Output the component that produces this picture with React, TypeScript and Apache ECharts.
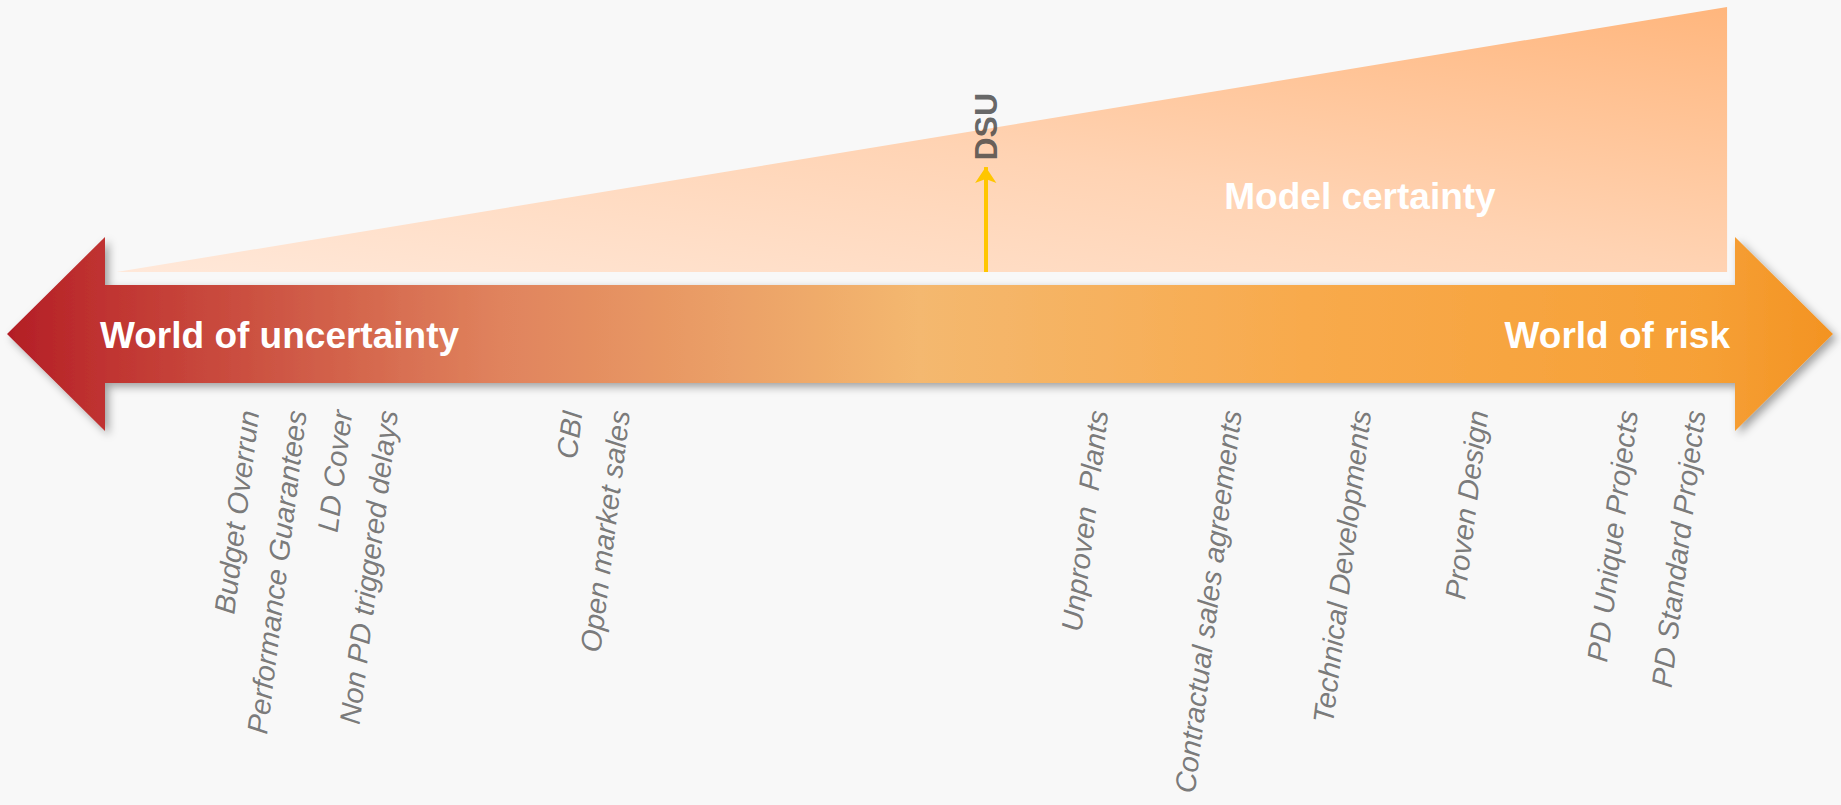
import React, { useEffect, useRef } from "react";
import * as echarts from "echarts";

// Spectrum from "World of uncertainty" (0) to "World of risk" (100)
const spectrumRange = [0, 100];

// Items placed along the spectrum
const categories = [
  "Budget Overrun",
  "Performance Guarantees",
  "LD Cover",
  "Non PD triggered delays",
  "CBI",
  "Open market sales",
  "Unproven  Plants",
  "Contractual sales agreements",
  "Technical Developments",
  "Proven Design",
  "PD Unique Projects",
  "PD Standard Projects",
];
const positions = [13.3, 15.9, 18.4, 20.9, 31.0, 33.6, 59.8, 67.1, 74.2, 80.6, 88.8, 92.5];

// Model certainty wedge (spectrum position, certainty level 0..1)
const certaintyX = [6.0, 94.2];
const certaintyY = [0, 1];

// DSU marker
const dsuName = "DSU";
const dsuX = 53.6;
const dsuLevel = 0.396;

const leftTitle = "World of uncertainty";
const rightTitle = "World of risk";
const wedgeTitle = "Model certainty";

const FONT = '"Liberation Sans", Arial, Helvetica, sans-serif';

export default function App() {
  const ref = useRef<HTMLDivElement>(null);

  useEffect(() => {
    if (!ref.current) return;
    const chart = echarts.init(ref.current, null, { renderer: "svg" });

    const arrowGradient = new echarts.graphic.LinearGradient(0, 0, 1, 0, [
      { offset: 0, color: "#B31E26" },
      { offset: 0.05, color: "#BF3230" },
      { offset: 0.27, color: "#E0835D" },
      { offset: 0.5, color: "#F4B86F" },
      { offset: 0.71, color: "#F8AA4C" },
      { offset: 0.93, color: "#F6A036" },
      { offset: 1, color: "#F39322" },
    ]);

    const option: any = {
      animation: false,
      backgroundColor: "#F8F8F8",
      grid: [
        { left: 7, right: 8, top: 7, bottom: 533 },
        { left: 7, right: 8, top: 411, bottom: 0 },
      ],
      xAxis: [
        { type: "value", gridIndex: 0, min: spectrumRange[0], max: spectrumRange[1], show: false },
        { type: "value", gridIndex: 1, min: spectrumRange[0], max: spectrumRange[1], show: false },
      ],
      yAxis: [
        { type: "value", gridIndex: 0, min: 0, max: 1, show: false },
        { type: "value", gridIndex: 1, min: 0, max: 1, show: false },
      ],
      graphic: [
        {
          type: "text",
          x: 1360,
          y: 196,
          z: 10,
          style: {
            text: wedgeTitle,
            fill: "#FFFFFF",
            fontSize: 37,
            fontWeight: "bold",
            fontFamily: FONT,
            align: "center",
            verticalAlign: "middle",
          },
        },
      ],
      series: [
        {
          type: "line",
          name: "certainty",
          xAxisIndex: 0,
          yAxisIndex: 0,
          data: certaintyX.map((x, i) => [x, certaintyY[i]]),
          symbol: "none",
          silent: true,
          lineStyle: { width: 0, opacity: 0 },
          areaStyle: {
            opacity: 1,
            color: new echarts.graphic.LinearGradient(0, 1, 1, 0, [
              { offset: 0, color: "#FFE8D9" },
              { offset: 0.5, color: "#FFD3B3" },
              { offset: 1, color: "#FFB67D" },
            ]),
          },
          z: 1,
        },
        {
          type: "custom",
          name: "spectrum",
          xAxisIndex: 0,
          yAxisIndex: 0,
          clip: false,
          silent: true,
          data: [[spectrumRange[0], spectrumRange[1]]],
          encode: { x: [0, 1] },
          z: 2,
          renderItem: (params: any, api: any) => {
            const a = api.coord([spectrumRange[0], 0]);
            const b = api.coord([spectrumRange[1], 0]);
            const x0 = a[0];
            const x1 = b[0];
            const cy = a[1] + 62;
            const hl = 98;
            const hh = 97;
            const sh = 49;
            const points = [
              [x0, cy],
              [x0 + hl, cy - hh],
              [x0 + hl, cy - sh],
              [x1 - hl, cy - sh],
              [x1 - hl, cy - hh],
              [x1, cy],
              [x1 - hl, cy + hh],
              [x1 - hl, cy + sh],
              [x0 + hl, cy + sh],
              [x0 + hl, cy + hh],
            ];
            return {
              type: "group",
              children: [
                {
                  type: "polygon",
                  shape: { points },
                  style: {
                    fill: arrowGradient,
                    shadowBlur: 8,
                    shadowOffsetX: 4,
                    shadowOffsetY: 4,
                    shadowColor: "rgba(0,0,0,0.35)",
                  },
                },
                {
                  type: "text",
                  x: x0 + 93,
                  y: cy + 1,
                  style: {
                    text: leftTitle,
                    fill: "#FFFFFF",
                    fontSize: 37,
                    fontWeight: "bold",
                    fontFamily: FONT,
                    align: "left",
                    verticalAlign: "middle",
                  },
                },
                {
                  type: "text",
                  x: x1 - 103,
                  y: cy + 1,
                  style: {
                    text: rightTitle,
                    fill: "#FFFFFF",
                    fontSize: 37,
                    fontWeight: "bold",
                    fontFamily: FONT,
                    align: "right",
                    verticalAlign: "middle",
                  },
                },
              ],
            };
          },
        },
        {
          type: "lines",
          name: "dsu",
          coordinateSystem: "cartesian2d",
          xAxisIndex: 0,
          yAxisIndex: 0,
          silent: true,
          symbol: ["none", "arrow"],
          symbolSize: 16,
          lineStyle: { color: "#FFC600", width: 4, opacity: 1 },
          data: [{ coords: [[dsuX, 0], [dsuX, dsuLevel]] }],
          z: 5,
        },
        {
          type: "scatter",
          name: "dsuLabel",
          xAxisIndex: 0,
          yAxisIndex: 0,
          silent: true,
          symbolSize: 1,
          itemStyle: { color: "transparent" },
          data: [{ name: dsuName, value: [dsuX, dsuLevel] }],
          label: {
            show: true,
            formatter: "{b}",
            position: "top",
            distance: 6,
            rotate: 90,
            align: "left",
            verticalAlign: "middle",
            color: "#404040",
            fontSize: 32,
            fontWeight: "bold",
            fontFamily: FONT,
          },
          z: 6,
        },
        {
          type: "scatter",
          name: "items",
          xAxisIndex: 1,
          yAxisIndex: 1,
          silent: true,
          clip: false,
          symbolSize: 1,
          itemStyle: { color: "transparent" },
          data: categories.map((name, i) => ({
            name,
            value: [positions[i], 1],
          })),
          label: {
            show: true,
            formatter: "{b}",
            position: [0, 0],
            rotate: 83,
            align: "right",
            verticalAlign: "middle",
            color: "#595959",
            fontSize: 29,
            fontStyle: "italic",
            fontFamily: FONT,
          },
          z: 6,
        },
      ],
    };

    chart.setOption(option);
    return () => chart.dispose();
  }, []);

  return (
    <div
      ref={ref}
      style={{ position: "absolute", left: 0, top: 0, width: 1841, height: 805, background: "#F8F8F8" }}
    />
  );
}
